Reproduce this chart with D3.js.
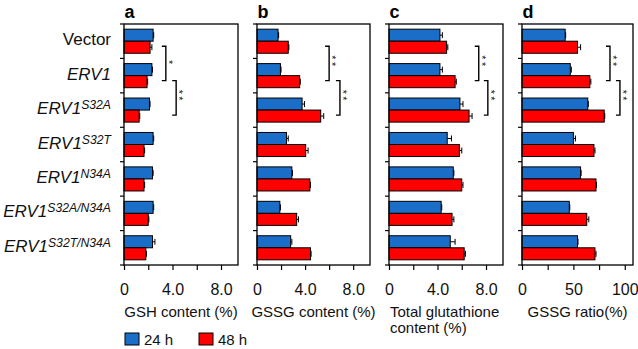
<!DOCTYPE html>
<html>
<head>
  <meta charset="utf-8">
  <title>Glutathione content bars</title>
  <style type="text/css">
    body { margin: 0; background: #fff; }
    svg { font-family: "Liberation Sans", Arial, sans-serif; }
  </style>
</head>
<body>
  <svg width="638" height="349"></svg>
  <script src="https://d3js.org/d3.v7.min.js"></script>
  <script>
    // 1. data
    var categories = ["Vector", "ERV1", "ERV1", "ERV1", "ERV1", "ERV1", "ERV1"];
    var supers = ["", "", "S32A", "S32T", "N34A", "S32A/N34A", "S32T/N34A"];
    var series = ["24 h", "48 h"];

    var gsh24 = [2.4, 2.3, 2.1, 2.4, 2.35, 2.4, 2.35];
    var gsh48 = [2.15, 1.9, 1.25, 1.65, 1.65, 2.0, 1.8];
    var gsh24Err = [0.05, 0.05, 0.05, 0.05, 0.05, 0.05, 0.2];
    var gsh48Err = [0.15, 0.05, 0.05, 0.05, 0.05, 0.05, 0.05];

    var gssg24 = [1.75, 1.95, 3.75, 2.45, 2.9, 1.9, 2.8];
    var gssg48 = [2.6, 3.55, 5.3, 4.05, 4.4, 3.3, 4.45];
    var gssg24Err = [0.05, 0.05, 0.2, 0.15, 0.05, 0.05, 0.1];
    var gssg48Err = [0.05, 0.05, 0.25, 0.2, 0.05, 0.15, 0.05];

    var total24 = [4.2, 4.2, 5.85, 4.8, 5.3, 4.3, 5.05];
    var total48 = [4.75, 5.45, 6.6, 5.8, 6.0, 5.2, 6.2];
    var total24Err = [0.2, 0.2, 0.25, 0.35, 0.05, 0.05, 0.4];
    var total48Err = [0.1, 0.1, 0.25, 0.2, 0.1, 0.15, 0.1];

    var ratio24 = [42, 47, 64, 50, 57, 46, 54];
    var ratio48 = [54, 66, 80, 70, 72, 63, 71];
    var ratio24Err = [0.5, 1, 0.5, 2, 0.5, 0.5, 0.5];
    var ratio48Err = [3, 1, 0.5, 1, 0.5, 2, 1];

    var letters = ["a", "b", "c", "d"];
    var titles = [["GSH content (%)"], ["GSSG content (%)"], ["Total glutathione", "content (%)"], ["GSSG ratio(%)"]];
    var maxes = [9.4, 9.4, 9.4, 108];
    var tickVals = [[0, 2, 4, 6, 8], [0, 2, 4, 6, 8], [0, 2, 4, 6, 8], [0, 25, 50, 75, 100]];
    var tickLabels = [{0: "0", 4: "4.0", 8: "8.0"}, {0: "0", 4: "4.0", 8: "8.0"}, {0: "0", 4: "4.0", 8: "8.0"}, {0: "0", 50: "50", 100: "100"}];
    // significance brackets: x position (data units) and label
    var brackets = [[3.45, 4.3], [6.0, 6.9], [7.4, 8.15], [85.6, 95.3]];
    var stars = [["*", "**"], ["**", "**"], ["**", "**"], ["**", "**"]];

    var values = [[gsh24, gsh48], [gssg24, gssg48], [total24, total48], [ratio24, ratio48]];
    var errors = [[gsh24Err, gsh48Err], [gssg24Err, gssg48Err], [total24Err, total48Err], [ratio24Err, ratio48Err]];

    var colors = { "24 h": "#1a6ec8", "48 h": "#ff0000" };

    // 2. layout
    var svg = d3.select("svg");
    var plotTop = 24, plotBottom = 265;
    var panelX = [124, 257, 389, 522];
    var panelW = [114, 113, 114, 111];

    var rows = categories.map(function (c, i) { return i; });
    var y = d3.scaleBand().domain(rows).range([plotTop, plotBottom]).paddingInner(0).paddingOuter(0);
    var ySub = d3.scaleBand().domain(series).range([0, y.bandwidth()]).paddingInner(0).paddingOuter(0.43);

    // category labels
    var labels = svg.append("g").attr("class", "labels");
    rows.forEach(function (i) {
      var t = labels.append("text")
        .attr("x", 111)
        .attr("y", y(i) + y.bandwidth() / 2 + 4)
        .attr("text-anchor", "end")
        .attr("font-size", 17)
        .attr("fill", "#111");
      if (i === 0) {
        t.text(categories[i]);
      } else {
        t.append("tspan").attr("font-style", "italic").text(categories[i]);
        if (supers[i]) {
          t.append("tspan")
            .attr("font-style", "italic")
            .attr("font-size", 12.2)
            .attr("dy", -5)
            .text(supers[i]);
        }
      }
    });

    // 3. panels
    letters.forEach(function (letter, p) {
      var x0 = panelX[p], w = panelW[p];
      var x = d3.scaleLinear().domain([0, maxes[p]]).range([x0, x0 + w]);
      var g = svg.append("g").attr("class", "panel-" + letter);

      // bars
      series.forEach(function (s, si) {
        var vals = values[p][si], errs = errors[p][si];
        g.selectAll(".bar-" + si)
          .data(vals)
          .enter()
          .append("rect")
          .attr("x", x(0))
          .attr("y", function (d, i) { return y(i) + ySub(s); })
          .attr("width", function (d) { return x(d) - x(0); })
          .attr("height", ySub.bandwidth())
          .attr("fill", colors[s])
          .attr("stroke", "#000")
          .attr("stroke-width", 1);

        // error bars
        vals.forEach(function (d, i) {
          var cy = y(i) + ySub(s) + ySub.bandwidth() / 2;
          g.append("line")
            .attr("x1", x(d)).attr("x2", x(d + errs[i]))
            .attr("y1", cy).attr("y2", cy)
            .attr("stroke", "#000").attr("stroke-width", 1);
          g.append("line")
            .attr("x1", x(d + errs[i])).attr("x2", x(d + errs[i]))
            .attr("y1", cy - 3).attr("y2", cy + 3)
            .attr("stroke", "#000").attr("stroke-width", 1);
        });
      });

      // frame
      g.append("rect")
        .attr("x", x0).attr("y", plotTop)
        .attr("width", w).attr("height", plotBottom - plotTop)
        .attr("fill", "none")
        .attr("stroke", "#000")
        .attr("stroke-width", 1.3);

      // left ticks at band boundaries
      d3.range(rows.length + 1).forEach(function (k) {
        var yy = plotTop + k * y.step();
        g.append("line")
          .attr("x1", x0 - 4).attr("x2", x0)
          .attr("y1", yy).attr("y2", yy)
          .attr("stroke", "#000").attr("stroke-width", 1.2);
      });

      // x axis
      var axis = d3.axisBottom(x)
        .tickValues(tickVals[p])
        .tickSize(5)
        .tickPadding(14)
        .tickFormat(function (d) { return tickLabels[p][d] || ""; });
      var ax = g.append("g")
        .attr("transform", "translate(0," + plotBottom + ")")
        .call(axis);
      ax.select(".domain").remove();
      ax.selectAll("line").attr("stroke", "#000").attr("stroke-width", 1.2);
      ax.selectAll("text")
        .attr("font-size", 16)
        .attr("font-family", "Liberation Sans, Arial, sans-serif")
        .attr("fill", "#111");

      // axis title
      var multi = titles[p].length > 1;
      titles[p].forEach(function (line, li) {
        g.append("text")
          .attr("x", multi ? x0 + 1 : x0 + w / 2)
          .attr("y", 317 + li * 16)
          .attr("text-anchor", multi ? "start" : "middle")
          .attr("font-size", 15)
          .attr("fill", "#111")
          .text(line);
      });

      // panel letter
      g.append("text")
        .attr("x", x0 + 0.5)
        .attr("y", 17.5)
        .attr("font-size", 18)
        .attr("font-weight", "bold")
        .attr("fill", "#000")
        .text(letter);

      // significance brackets
      brackets[p].forEach(function (bx, bi) {
        var yA = y(bi) + ySub("48 h") + ySub.bandwidth() / 2 - 1;
        var yB = y(bi + 1) + ySub("48 h") + ySub.bandwidth() / 2 - 1;
        var xx = x(bx);
        g.append("path")
          .attr("d", "M" + (xx - 4) + "," + yA + "H" + xx + "V" + yB + "H" + (xx - 4))
          .attr("fill", "none")
          .attr("stroke", "#000")
          .attr("stroke-width", 1.4);
        var mid = (yA + yB) / 2 - 1.5;
        // stars stacked vertically: text rotated by 90 degrees
        g.append("text")
          .attr("transform", "translate(" + (xx + 5) + "," + mid + ") rotate(90)")
          .attr("text-anchor", "middle")
          .attr("dy", "0.55em")
          .attr("font-size", 10.5)
          .attr("letter-spacing", stars[p][bi].length > 1 ? 2.5 : 0)
          .attr("fill", "#222")
          .text(stars[p][bi]);
      });
    });

    // 4. legend
    var legend = svg.append("g").attr("class", "legend");
    var legX = [125, 199];
    series.forEach(function (s, i) {
      legend.append("rect")
        .attr("x", legX[i]).attr("y", 333)
        .attr("width", 14).attr("height", 12)
        .attr("fill", colors[s])
        .attr("stroke", "#000").attr("stroke-width", 1);
      legend.append("text")
        .attr("x", legX[i] + 19).attr("y", 345)
        .attr("font-size", 15)
        .attr("fill", "#111")
        .text(s);
    });
  </script>
</body>
</html>
